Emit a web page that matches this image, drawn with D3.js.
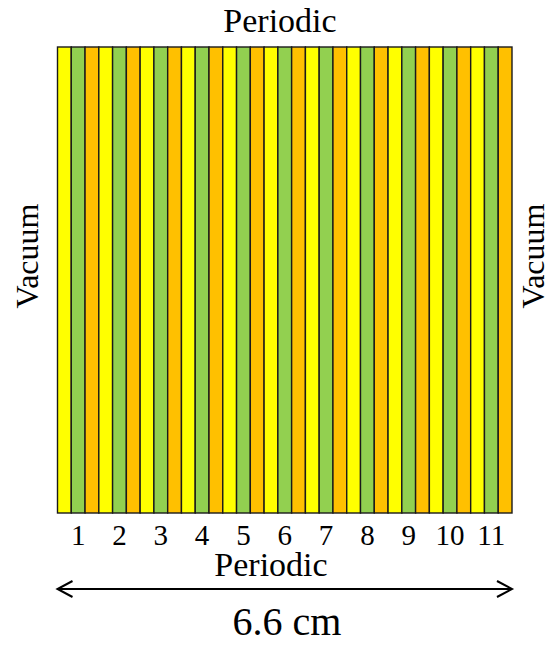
<!DOCTYPE html>
<html>
<head>
<meta charset="utf-8">
<script src="https://cdn.jsdelivr.net/npm/d3@7"></script>
<style>
  body { margin: 0; background: #fff; }
  text { font-family: "Liberation Serif", "Times New Roman", serif; fill: #000; }
</style>
</head>
<body>
<div id="chart"></div>
<script>
// cell numbers along the bottom
let cellLabels = ["1", "2", "3", "4", "5", "6", "7", "8", "9", "10", "11"];
// three layers inside every cell, left to right
let layerNames = ["yellow", "green", "orange"];
let layerColors = ["#FFFF00", "#92D050", "#FFC000"];
// boundary conditions and size
let topLabel = "Periodic";
let bottomLabel = "Periodic";
let sideLabel = "Vacuum";
let sizeLabel = "6.6 cm";

let width = 551;
let height = 648;
let boxLeft = 57.5, boxRight = 512, boxTop = 47, boxBottom = 513;

let svg = d3.select('#chart')
            .append('svg')
            .attr('width', width)
            .attr('height', height);

// outer scale for cells, inner scale for the layers of a cell
let xScale = d3.scaleBand()
                .domain(cellLabels)
                .range([boxLeft, boxRight])
                .padding(0);

let layerScale = d3.scaleBand()
                .domain(layerNames)
                .range([0, xScale.bandwidth()])
                .padding(0);

let colorScale = d3.scaleOrdinal()
                .domain(layerNames)
                .range(layerColors);

let stripes = [];
cellLabels.forEach(c => layerNames.forEach(l => stripes.push({cell: c, layer: l})));

svg.selectAll("rect.stripe")
    .data(stripes)
    .enter()
    .append("rect")
    .attr("class", "stripe")
    .attr("x", d => xScale(d.cell) + layerScale(d.layer))
    .attr("y", boxTop)
    .attr("width", layerScale.bandwidth())
    .attr("height", boxBottom - boxTop)
    .attr("fill", d => colorScale(d.layer))
    .attr("stroke", "#1a1a1a")
    .attr("stroke-width", 1.4);

// cell numbers
let xAxis = d3.axisBottom(xScale).tickSize(0).tickPadding(0);
let axisG = svg.append("g")
    .attr("transform", "translate(0," + boxBottom + ")")
    .call(xAxis);
axisG.select(".domain").remove();
axisG.selectAll("text")
    .attr("dy", null)
    .attr("y", 32)
    .style("font-family", '"Liberation Serif", serif')
    .style("font-size", "29px");

svg.append("text")
    .attr("x", 280)
    .attr("y", 32)
    .attr("text-anchor", "middle")
    .style("font-size", "34px")
    .text(topLabel);

svg.append("text")
    .attr("x", 271)
    .attr("y", 576)
    .attr("text-anchor", "middle")
    .style("font-size", "34px")
    .text(bottomLabel);

svg.append("text")
    .attr("transform", "translate(37.5,256) rotate(-90)")
    .attr("text-anchor", "middle")
    .style("font-size", "32px")
    .text(sideLabel);

svg.append("text")
    .attr("transform", "translate(544,256) rotate(-90)")
    .attr("text-anchor", "middle")
    .style("font-size", "32px")
    .text(sideLabel);

// size arrow
let arrowY = 589;
svg.append("line")
    .attr("x1", boxLeft).attr("x2", boxRight)
    .attr("y1", arrowY).attr("y2", arrowY)
    .attr("stroke", "#000")
    .attr("stroke-width", 2);

svg.append("path")
    .attr("d", "M" + (boxLeft + 15) + "," + (arrowY - 8) + "L" + boxLeft + "," + arrowY + "L" + (boxLeft + 15) + "," + (arrowY + 8))
    .attr("fill", "none")
    .attr("stroke", "#000")
    .attr("stroke-width", 2);

svg.append("path")
    .attr("d", "M" + (boxRight - 15) + "," + (arrowY - 8) + "L" + boxRight + "," + arrowY + "L" + (boxRight - 15) + "," + (arrowY + 8))
    .attr("fill", "none")
    .attr("stroke", "#000")
    .attr("stroke-width", 2);

svg.append("text")
    .attr("x", 287)
    .attr("y", 635)
    .attr("text-anchor", "middle")
    .style("font-size", "40px")
    .text(sizeLabel);
</script>
</body>
</html>
